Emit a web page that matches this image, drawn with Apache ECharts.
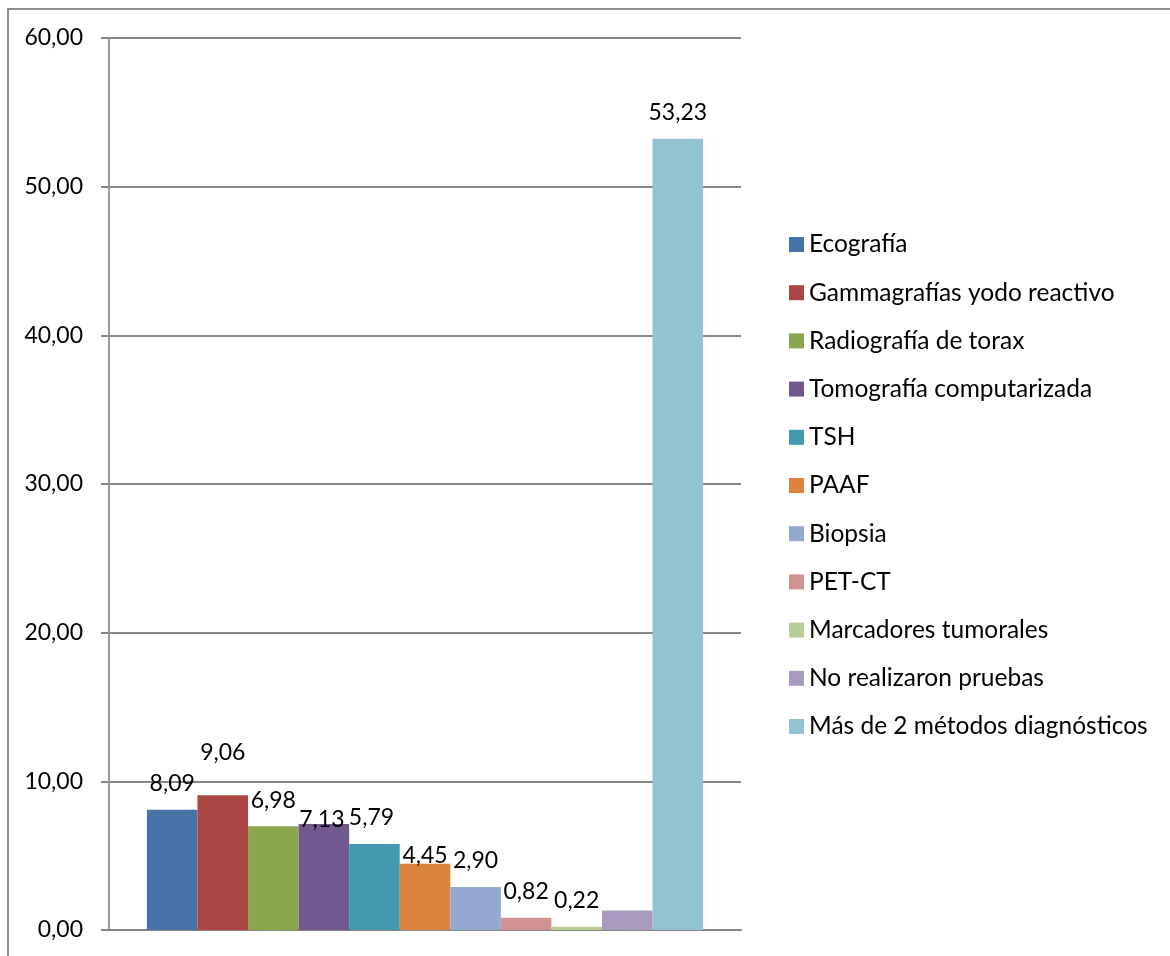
<!DOCTYPE html>
<html lang="es">
<head>
  <meta charset="utf-8">
  <title>Métodos diagnósticos</title>
  <script src="https://cdn.jsdelivr.net/npm/echarts@6/dist/echarts.min.js"></script>
</head>
<body style="margin:0;background:#fff;overflow:hidden">
<div style="position:absolute;left:7px;top:8px;width:1200px;height:1000px;border:2px solid #8e8e8e;box-sizing:border-box"></div>
<div id="container" style="position:absolute;left:0;top:0;width:1170px;height:956px"></div>
<script type="text/javascript">
  // datos (porcentaje)
  var metodos = [
    'Ecografía',
    'Gammagrafías yodo reactivo',
    'Radiografía de torax',
    'Tomografía computarizada',
    'TSH',
    'PAAF',
    'Biopsia',
    'PET-CT',
    'Marcadores tumorales',
    'No realizaron pruebas',
    'Más de 2 métodos diagnósticos'
  ];
  var porcentajes = [8.09, 9.06, 6.98, 7.13, 5.79, 4.45, 2.90, 0.82, 0.22, 1.32, 53.23];
  var colores = ['#4672a8', '#a94643', '#8aa64f', '#71588f', '#4299b0', '#db843d',
                 '#93a9d0', '#d19392', '#b9cd97', '#a99bbd', '#92c3d4'];
  // desplazamiento manual de etiquetas, como en la hoja original
  var etiquetaOffset = [[0, 0], [0, -17], [0, 0], [-2, 22], [-3, 0], [0, 18],
                        [0, 0], [0, 0], [0, 0], [0, 0], [0, 0]];
  var sinEtiqueta = ['No realizaron pruebas'];

  var fmt = function (v) { return v.toFixed(2).replace('.', ','); };
  var fuente = 'Lato';

  var myChart = echarts.init(document.getElementById('container'));

  var series = metodos.map(function (name, i) {
    return {
      name: name,
      type: 'bar',
      barGap: '0%',
      barCategoryGap: '12%',
      data: [porcentajes[i]],
      itemStyle: { color: colores[i] },
      label: {
        show: sinEtiqueta.indexOf(name) < 0,
        position: 'top',
        distance: 14,
        offset: etiquetaOffset[i],
        fontFamily: fuente,
        fontSize: 23,
        lineHeight: 24,
        color: '#000',
        formatter: function (p) { return fmt(p.value); }
      },
      emphasis: { disabled: true }
    };
  });

  var option = {
    animation: false,
    textStyle: { fontFamily: fuente },
    grid: { left: 109, right: 429, top: 38, bottom: 26 },
    legend: {
      orient: 'vertical',
      left: 784,
      top: 227,
      itemWidth: 15,
      itemHeight: 15,
      itemGap: 23.2,
      icon: 'rect',
      textStyle: { fontFamily: fuente, fontSize: 24.5, lineHeight: 24, color: '#000' },
      data: metodos
    },
    xAxis: {
      type: 'category',
      data: [''],
      axisLine: { lineStyle: { color: '#868686', width: 2 } },
      axisTick: { show: false },
      axisLabel: { show: false }
    },
    yAxis: {
      type: 'value',
      min: 0,
      max: 60,
      interval: 10,
      axisLine: { show: true, lineStyle: { color: '#9a9a9a', width: 2 } },
      axisTick: { show: true, inside: false, length: 8, lineStyle: { color: '#868686', width: 2 } },
      axisLabel: {
        margin: 26,
        fontFamily: fuente,
        fontSize: 23,
        color: '#000',
        formatter: fmt
      },
      splitLine: { lineStyle: { color: '#868686', width: 2 } }
    },
    series: series
  };

  myChart.setOption(option);
</script>
</body>
</html>
